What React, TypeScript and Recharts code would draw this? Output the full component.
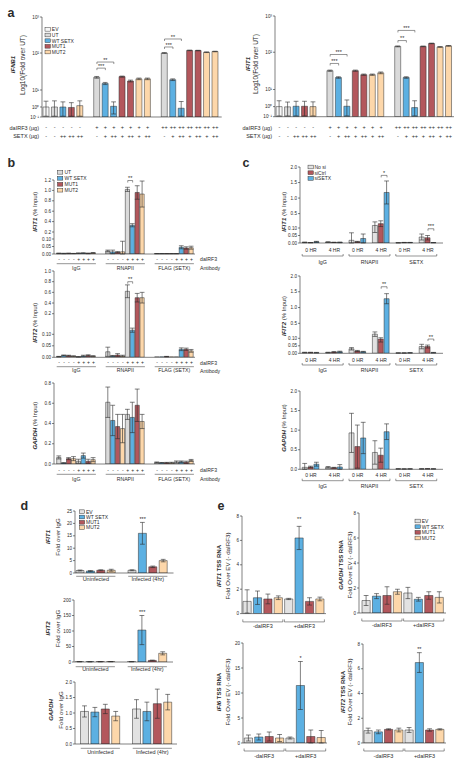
import React from 'react';
import { BarChart, Bar, XAxis, YAxis, Cell, ErrorBar, ReferenceLine, ReferenceDot } from 'recharts';

const FONT = '"Liberation Sans", Arial, sans-serif';
const INK = '#2b2b2b';
const COL: Record<string, string> = { EV: '#f7f7f7', UT: '#dadada', G: '#e2e2e2', WT: '#5cb0e2', M1: '#b3575c', M2: '#fdd7aa' };

// ---------------- panel a ----------------
const aDalRF3 = ['-', '-', '-', '-', '-', '', '+', '+', '+', '+', '+', '+', '+', '', '++', '++', '++', '++', '++', '++', '++'];
const aSETX = ['-', '-', '++', '++', '++', '', '-', '+', '++', '+', '++', '+', '++', '', '-', '+', '++', '+', '++', '+', '++'];
const aColors = ['EV', 'UT', 'WT', 'M1', 'M2', '', 'UT', 'WT', 'WT', 'M1', 'M1', 'M2', 'M2', '', 'UT', 'WT', 'WT', 'M1', 'M1', 'M2', 'M2'];
const aIfnb1 = [1.0, 1.0, 1.0, 0.9, 1.2, null, 22, 15, 1.1, 23, 17.5, 20, 20, null, 100, 19, 0.75, 118, 117, 105, 110];
const aIfnb1Err = [1.2, 1.3, 1.0, 0.9, 1.1, null, 1.2, 1.0, 0.9, 0.8, 1.0, 1.0, 1.0, null, 2.5, 1.0, 1.35, 2, 2, 2, 2];
const aIfnb1Brackets: [number, number, number, string][] = [[6, 7, 39, '***'], [6, 8, 57, '**'], [14, 15, 147, '***'], [14, 16, 245, '**']];
const aIfit1 = [1.0, 0.95, 1.05, 1.05, 1.0, null, 32, 21, 1.05, 32, 25, 25, 28, null, 145, 21, 0.8, 145, 175, 140, 150];
const aIfit1Err = [1.2, 0.9, 1.0, 1.0, 0.9, null, 1.2, 1.0, 1.4, 1.2, 1.0, 1.0, 1.5, null, 4, 1.0, 1.4, 3, 3, 3, 3];
const aIfit1Brackets: [number, number, number, string][] = [[6, 7, 50, '***'], [6, 8, 87, '***'], [14, 15, 210, '**'], [14, 16, 400, '***']];
const aTicks = [0.1, 1, 10, 100, 1000];
const aTickLabels = ['10⁻¹', '10⁰', '10¹', '10²', '10³'];
const aLegend = [['EV', 'EV'], ['UT', 'UT'], ['WT SETX', 'WT'], ['MUT1', 'M1'], ['MUT2', 'M2']];

// ---------------- panel b ----------------
const bDal = ['-', '-', '-', '-', '+', '+', '+', '+', '', '', '-', '-', '-', '-', '+', '+', '+', '+', '', '', '-', '-', '-', '-', '+', '+', '+', '+'];
const bColors = ['UT', 'WT', 'M1', 'M2', 'UT', 'WT', 'M1', 'M2', '', '', 'UT', 'WT', 'M1', 'M2', 'UT', 'WT', 'M1', 'M2', '', '', 'UT', 'WT', 'M1', 'M2', 'UT', 'WT', 'M1', 'M2'];
const bGroupNames = ['IgG', 'RNAPII', 'FLAG (SETX)'];
const bIfit1 = [0.004, 0.003, 0.004, 0.003, 0.005, 0.006, 0.004, 0.007, null, null,
  0.02, 0.014, 0.012, 0.015, 1.02, 0.33, 0.96, 0.93, null, null,
  0.002, 0.002, 0.002, 0.002, 0.002, 0.045, 0.04, 0.042];
const bIfit1Err = [0.002, 0.002, 0.002, 0.001, 0.002, 0.002, 0.002, 0.003, null, null,
  0.006, 0.012, 0.004, 0.07, 0.04, 0.03, 0.13, 0.25, null, null,
  0.001, 0.001, 0.001, 0.001, 0.001, 0.01, 0.008, 0.01];
const bIfit2 = [0.003, 0.008, 0.007, 0.005, 0.002, 0.006, 0.008, 0.005, null, null,
  0.024, 0.006, 0.01, 0.006, 0.62, 0.12, 0.5, 0.5, null, null,
  0.002, 0.002, 0.003, 0.002, 0.002, 0.035, 0.035, 0.028];
const bIfit2Err = [0.001, 0.002, 0.002, 0.001, 0.001, 0.003, 0.003, 0.002, null, null,
  0.02, 0.002, 0.006, 0.003, 0.12, 0.01, 0.08, 0.1, null, null,
  0, 0, 0.001, 0, 0, 0.006, 0.005, 0.006];
const bGapdh = [0.065, 0.01, 0.053, 0.053, 0.027, 0.083, 0.027, 0.043, null, null,
  0.61, 0.43, 0.37, 0.35, 0.49, 0.46, 0.58, 0.42, null, null,
  0.015, 0.012, 0.012, 0.012, 0.02, 0.022, 0.018, 0.035];
const bGapdhErr = [0.015, 0.003, 0.01, 0.02, 0.02, 0.025, 0.02, 0.02, null, null,
  0.15, 0.15, 0.12, 0.14, 0.05, 0.15, 0.16, 0.07, null, null,
  0.005, 0.003, 0.004, 0.005, 0.01, 0.008, 0.01, 0.01];
const bLegend = [['UT', 'UT'], ['WT SETX', 'WT'], ['MUT1', 'M1'], ['MUT2', 'M2']];

// ---------------- panel c ----------------
const cColors = ['G', 'M1', 'WT', '', 'G', 'M1', 'WT', '', 'G', 'M1', 'WT', '', 'G', 'M1', 'WT', '', 'G', 'M1', 'WT', '', 'G', 'M1', 'WT'];
const cTimes = ['0 HR', '4 HR', '0 HR', '4 HR', '0 HR', '4 HR'];
const cGroupNames = ['IgG', 'RNAPII', 'SETX'];
const cIfit1 = [0.004, 0.002, 0.008, null, 0.006, 0.004, 0.004, null, 0.018, 0.008, 0.03, null, 0.17, 0.22, 1.18, null, 0.001, 0.003, 0.003, null, 0.04, 0.035, 0.002];
const cIfit1Err = [0.002, 0.001, 0.003, null, 0.002, 0.001, 0.002, null, 0.05, 0.003, 0.03, null, 0.1, 0.08, 0.37, null, 0.001, 0.001, 0.001, null, 0.02, 0.015, 0.001];
const cIfit2 = [0.005, 0.005, 0.004, null, 0.005, 0.008, 0.01, null, 0.03, 0.015, 0.01, null, 0.21, 0.095, 1.28, null, 0.002, 0.002, 0.003, null, 0.045, 0.045, 0.004];
const cIfit2Err = [0.002, 0.002, 0.002, null, 0.002, 0.004, 0.004, null, 0.008, 0.004, 0.003, null, 0.06, 0.02, 0.16, null, 0.001, 0.001, 0.001, null, 0.015, 0.01, 0.002];
const cGapdh = [0.05, 0.06, 0.13, null, 0.05, 0.04, 0.06, null, 0.93, 0.58, 0.8, null, 0.43, 0.36, 0.96, null, 0.01, 0.008, 0.01, null, 0.01, 0.012, 0.01];
const cGapdhErr = [0.1, 0.02, 0.05, null, 0.02, 0.01, 0.06, null, 0.5, 0.55, 0.4, null, 0.3, 0.18, 0.2, null, 0.004, 0.003, 0.004, null, 0.004, 0.005, 0.004];
const cLegend = [['No si', 'G'], ['siCtrl', 'M1'], ['siSETX', 'WT']];

// ---------------- panel d ----------------
const dColors = ['G', 'WT', 'M1', 'M2', '', 'G', 'WT', 'M1', 'M2'];
const dGroupNames = ['Uninfected', 'Infected (4hr)'];
const dIfit1 = [1.0, 0.8, 1.1, 1.1, null, 1.1, 16, 2.5, 5.0];
const dIfit1Err = [0.2, 0.2, 0.2, 0.4, null, 0.2, 4.4, 0.3, 0.5];
const dIfit2 = [1, 0.8, 1, 1.2, null, 1, 103, 5, 28];
const dIfit2Err = [0.3, 0.2, 0.3, 0.3, null, 0.3, 47, 1, 5];
const dGapdh = [1.05, 1.03, 1.13, 0.9, null, 1.13, 1.05, 1.3, 1.35];
const dGapdhErr = [0.18, 0.15, 0.15, 0.15, null, 0.3, 0.3, 0.47, 0.25];
const dLegend = [['EV', 'G'], ['WT SETX', 'WT'], ['MUT1', 'M1'], ['MUT2', 'M2']];

// ---------------- panel e ----------------
const eColors = ['G', 'WT', 'M1', 'M2', 'G', 'WT', 'M1', 'M2'];
const eGroupNames = ['-daIRF3', '+daIRF3'];
const eIfit1 = [1.0, 1.3, 1.2, 1.3, 1.2, 6.2, 1.0, 1.2];
const eIfit1Err = [0.95, 0.55, 0.4, 0.15, 0.05, 0.95, 0.3, 0.15];
const eGapdh = [1.0, 1.35, 1.4, 1.7, 1.6, 1.1, 1.4, 1.25];
const eGapdhErr = [0.4, 0.2, 0.7, 0.2, 0.45, 0.15, 0.3, 0.45];
const eIfi6 = [1.0, 1.2, 1.3, 1.0, 1.0, 11.5, 1.3, 1.1];
const eIfi6Err = [0.6, 0.6, 0.9, 0.7, 0.2, 4.8, 1.3, 1.4];
const eIfit2 = [1.0, 0.9, 1.1, 1.05, 1.05, 6.5, 1.05, 1.1];
const eIfit2Err = [0.2, 0.15, 0.05, 0.15, 0.2, 0.8, 0.1, 0.05];

// ---------------- axis scales ----------------
function piecewise(bp: number[][]) {
  return (v: number) => {
    for (let i = 1; i < bp.length; i++) {
      if (v <= bp[i][0] || i === bp.length - 1) {
        const [x0, y0] = bp[i - 1];
        const [x1, y1] = bp[i];
        return y0 + ((v - x0) * (y1 - y0)) / (x1 - x0);
      }
    }
    return v;
  };
}
const logAxis = piecewise([[-1, 0], [0, 10], [1, 27], [2, 64], [3, 100]]);
const tA = (v: number) => logAxis(Math.log10(Math.max(v, 0.1)));
const tB1 = piecewise([[0, 0], [0.1, 15], [0.2, 22], [1.2, 74]]);
const tB2 = piecewise([[0, 0], [0.1, 23], [0.2, 43.6], [1.0, 86.3]]);
const tC1 = piecewise([[0, 0], [0.1, 15], [0.5, 29.4], [2.0, 76]]);
const tC2 = piecewise([[0, 0], [0.1, 15], [0.5, 30], [2.0, 77.3]]);
const lin = (v: number) => v;

type Group = { start: number; n: number; label: string; dy: number; fs?: number; line?: number; ends?: number; inset?: number };
type Spec = {
  x: number; y: number; w: number; h: number; padL: number; padR: number;
  vals: (number | null)[]; errs: (number | null)[]; colors: string[];
  tf: (v: number) => number; lowClamp?: number; dTop: number;
  ticks: number[]; tickLabels: string[]; barSize: number;
  rows?: { dy: number; items: string[]; fs?: number }[];
  groups?: Group[];
  brackets?: [number, number, number, string][];
  stars?: [number, number, string][];
};

function Panel({ s }: { s: Spec }) {
  const YW = 20, MT = 12, MR = 4, XH = 26;
  const n = s.vals.length;
  const pitch = (s.w - s.padL - s.padR) / n;
  const data = s.vals.map((v, i) => {
    const row: any = { k: 's' + i, c: s.colors[i], v: null };
    if (v != null) {
      const d = s.tf(v);
      row.v = d;
      const e = s.errs[i];
      if (e != null && e > 0) {
        const lo = Math.max(v - e, s.lowClamp ?? 0);
        row.e = [d - s.tf(lo), s.tf(v + e) - d];
      }
    }
    return row;
  });
  const upp = s.dTop / s.h;
  const tickVals = s.ticks.map(s.tf);
  const tick = (p: any) => {
    const i = p.index ?? p.payload?.index;
    const x = p.x, y = p.y;
    const out: any[] = [];
    (s.rows || []).forEach((r, j) => {
      const t = r.items[i];
      if (t) out.push(<text key={'r' + j} x={x} y={y + r.dy} textAnchor="middle" fontSize={r.fs ?? 5} fill={INK} fontFamily={FONT}>{t}</text>);
    });
    (s.groups || []).forEach((g, j) => {
      if (g.start !== i) return;
      const cx = x + ((g.n - 1) / 2) * pitch;
      const half = (g.n * pitch) / 2 - (g.inset ?? 0);
      if (g.line != null) {
        out.push(<line key={'l' + j} x1={cx - half} x2={cx + half} y1={y + g.line} y2={y + g.line} stroke={INK} strokeWidth={0.5} />);
        if (g.ends) {
          out.push(<line key={'la' + j} x1={cx - half} x2={cx - half} y1={y + g.line} y2={y + g.line - g.ends} stroke={INK} strokeWidth={0.5} />);
          out.push(<line key={'lb' + j} x1={cx + half} x2={cx + half} y1={y + g.line} y2={y + g.line - g.ends} stroke={INK} strokeWidth={0.5} />);
        }
      }
      if (g.label) out.push(<text key={'g' + j} x={cx} y={y + g.dy} textAnchor="middle" fontSize={g.fs ?? 5.2} fill={INK} fontFamily={FONT}>{g.label}</text>);
    });
    return <g>{out}</g>;
  };
  return (
    <div style={{ position: 'absolute', left: s.x - YW, top: s.y - MT }}>
      <BarChart width={YW + s.w + MR} height={MT + s.h + XH} data={data} margin={{ top: MT, right: MR, bottom: 0, left: 0 }}>
        <XAxis dataKey="k" type="category" interval={0} tickLine={false} tickSize={0} tickMargin={0} height={XH}
          padding={{ left: s.padL, right: s.padR }} axisLine={{ stroke: INK, strokeWidth: 0.6 }} tick={tick} />
        <YAxis type="number" domain={[0, s.dTop]} allowDataOverflow ticks={tickVals} interval={0} width={YW}
          tickSize={2} tickMargin={1}
          tickFormatter={(v: number, i: number) => {
            if (i != null && s.tickLabels[i] != null) return s.tickLabels[i];
            let best = 0;
            tickVals.forEach((t, j) => { if (Math.abs(t - v) < Math.abs(tickVals[best] - v)) best = j; });
            return s.tickLabels[best];
          }}
          axisLine={{ stroke: INK, strokeWidth: 0.6 }} tickLine={{ stroke: INK, strokeWidth: 0.6 }}
          tick={{ fontSize: 4.6, fill: INK, fontFamily: FONT }} />
        <Bar dataKey="v" barSize={s.barSize} isAnimationActive={false} stroke={INK} strokeWidth={0.5}>
          {data.map((d, i) => <Cell key={i} fill={COL[d.c] || 'none'} />)}
          <ErrorBar dataKey="e" width={2.4} stroke={INK} strokeWidth={0.6} direction="y" />
        </Bar>
        {(s.brackets || []).map(([a, b, hv, lab], j) => {
          const yv = s.tf(hv);
          const drop = 2 * upp;
          return (
            <React.Fragment key={'br' + j}>
              <ReferenceLine segment={[{ x: 's' + a, y: yv }, { x: 's' + b, y: yv }]} stroke={INK} strokeWidth={0.5} ifOverflow="visible"
                label={{ value: lab, position: 'top', fontSize: 5.5, fill: INK, offset: 0.3 }} />
              <ReferenceLine segment={[{ x: 's' + a, y: yv }, { x: 's' + a, y: yv - drop }]} stroke={INK} strokeWidth={0.5} ifOverflow="visible" />
              <ReferenceLine segment={[{ x: 's' + b, y: yv }, { x: 's' + b, y: yv - drop }]} stroke={INK} strokeWidth={0.5} ifOverflow="visible" />
            </React.Fragment>
          );
        })}
        {(s.stars || []).map(([i, hv, lab], j) => (
          <ReferenceDot key={'st' + j} x={'s' + i} y={s.tf(hv)} r={0} fill="none" stroke="none" ifOverflow="visible"
            label={{ value: lab, position: 'center', fontSize: 5.5, fill: INK }} />
        ))}
      </BarChart>
    </div>
  );
}

// ---------------- panel specs ----------------
const aSpecBase = { padL: 0, colors: aColors, tf: tA, lowClamp: 0.12, dTop: 100, ticks: aTicks, tickLabels: aTickLabels, barSize: 6 };
const specA1: Spec = { ...aSpecBase, x: 41.8, y: 17.3, w: 179.7, h: 100, padR: 2.25, vals: aIfnb1, errs: aIfnb1Err,
  rows: [{ dy: 12.4, items: aDalRF3, fs: 5.5 }, { dy: 20.7, items: aSETX, fs: 5.5 }], brackets: aIfnb1Brackets };
const specA2: Spec = { ...aSpecBase, x: 275, y: 16, w: 179, h: 100.7, padL: 0.1, padR: 1, vals: aIfit1, errs: aIfit1Err,
  rows: [{ dy: 12.7, items: aDalRF3, fs: 5.5 }, { dy: 21, items: aSETX, fs: 5.5 }], brackets: aIfit1Brackets };

const bGroups = (line: number, dy: number): Group[] => bGroupNames.map((g, k) => ({ start: k * 10, n: 8, label: g, line, dy, inset: 0 }));
const bBase = { x: 54, w: 141, padL: 2.7, padR: 1.1, colors: bColors, barSize: 4.2 };
const specB1: Spec = { ...bBase, y: 180, h: 74, vals: bIfit1, errs: bIfit1Err, tf: tB1, dTop: 74,
  ticks: [0, 0.05, 0.1, 0.2, 0.4, 0.6, 0.8, 1.0, 1.2], tickLabels: ['0.00', '0.05', '0.10', '0.2', '0.4', '0.6', '0.8', '1.0', '1.2'],
  rows: [{ dy: 7.0, items: bDal }], groups: bGroups(9.7, 15.5), brackets: [[14, 15, 1.19, '**']] };
const specB2: Spec = { ...bBase, y: 271, h: 86.3, vals: bIfit2, errs: bIfit2Err, tf: tB2, dTop: 86.3,
  ticks: [0, 0.05, 0.1, 0.2, 0.4, 0.6, 0.8, 1.0], tickLabels: ['0.00', '0.05', '0.10', '0.2', '0.4', '0.6', '0.8', '1.0'],
  rows: [{ dy: 7.1, items: bDal }], groups: bGroups(9.4, 15.2), brackets: [[14, 15, 0.8, '**']] };
const specB3: Spec = { ...bBase, y: 383, h: 81, vals: bGapdh, errs: bGapdhErr, tf: lin, dTop: 0.8,
  ticks: [0, 0.2, 0.4, 0.6, 0.8], tickLabels: ['0.0', '0.2', '0.4', '0.6', '0.8'],
  rows: [{ dy: 7.8, items: bDal }], groups: bGroups(10.3, 16.8) };

const cGroups = (subDy: number, line: number, dy: number): Group[] => [
  ...cTimes.map((t, k) => ({ start: k * 4, n: 3, label: t, dy: subDy, fs: 5 })),
  ...cGroupNames.map((g, k) => ({ start: k * 8, n: 7, label: g, line, ends: 2, dy, fs: 5.3 })),
];
const cBase = { x: 300, w: 143, padL: 2.2, padR: 6.25, colors: cColors, barSize: 5 };
const specC1: Spec = { ...cBase, y: 166.7, h: 76, vals: cIfit1, errs: cIfit1Err, tf: tC1, dTop: 76,
  ticks: [0, 0.05, 0.1, 0.5, 1, 1.5, 2], tickLabels: ['0.00', '0.05', '0.10', '0.5', '1.0', '1.5', '2.0'],
  groups: cGroups(9.1, 13, 21.4), brackets: [[13, 14, 1.73, '*'], [21, 22, 0.095, '***']] };
const specC2: Spec = { ...cBase, y: 276, h: 77.3, vals: cIfit2, errs: cIfit2Err, tf: tC2, dTop: 77.3,
  ticks: [0, 0.05, 0.1, 0.5, 1, 1.5, 2], tickLabels: ['0.00', '0.05', '0.10', '0.5', '1.0', '1.5', '2.0'],
  groups: cGroups(8.5, 11.7, 19.2), brackets: [[13, 14, 1.66, '**'], [21, 22, 0.095, '**']] };
const specC3: Spec = { ...cBase, y: 391, h: 78.3, vals: cGapdh, errs: cGapdhErr, tf: lin, dTop: 2,
  ticks: [0, 0.5, 1, 1.5, 2], tickLabels: ['0.0', '0.5', '1.0', '1.5', '2.0'],
  groups: cGroups(7.5, 11.4, 18.5) };

const dGroups = (line: number, dy: number): Group[] => dGroupNames.map((g, k) => ({ start: k * 5, n: 4, label: g, line, dy, inset: 1.2, fs: 5.5 }));
const dBase = { colors: dColors, barSize: 8, tf: lin };
const specD1: Spec = { ...dBase, x: 74.5, y: 511, w: 98.5, h: 62, padL: 0, padR: 4.9, vals: dIfit1, errs: dIfit1Err, dTop: 25,
  ticks: [0, 5, 10, 15, 20, 25], tickLabels: ['0', '5', '10', '15', '20', '25'], groups: dGroups(3.3, 8.1), stars: [[6, 21.8, '***']] };
const specD2: Spec = { ...dBase, x: 74, y: 600, w: 99, h: 62, padL: 0.5, padR: 4.9, vals: dIfit2, errs: dIfit2Err, dTop: 200,
  ticks: [0, 50, 100, 150, 200], tickLabels: ['0', '50', '100', '150', '200'], groups: dGroups(4.7, 9.1), stars: [[6, 162, '***']] };
const specD3: Spec = { ...dBase, x: 75, y: 682, w: 102, h: 62, padL: 4.5, padR: 3.9, vals: dGapdh, errs: dGapdhErr, dTop: 2,
  ticks: [0, 0.5, 1, 1.5, 2], tickLabels: ['0.0', '0.5', '1.0', '1.5', '2.0'], groups: dGroups(4.3, 9.5) };

const eGroups = (line: number, dy: number): Group[] => eGroupNames.map((g, k) => ({ start: k * 4, n: 4, label: g, line, ends: 2.5, dy, inset: 0.8, fs: 5.5 }));
const eBase = { colors: eColors, barSize: 8.2, tf: lin };
const specE1: Spec = { ...eBase, x: 242, y: 516.4, w: 84, h: 97.6, padL: 0, padR: 0.8, vals: eIfit1, errs: eIfit1Err, dTop: 8,
  ticks: [0, 2, 4, 6, 8], tickLabels: ['0', '2', '4', '6', '8'], groups: eGroups(8.3, 14.5), stars: [[5, 7.75, '**']] };
const specE2: Spec = { ...eBase, x: 359, y: 513, w: 87, h: 100, padL: 2, padR: 1.4, vals: eGapdh, errs: eGapdhErr, dTop: 8,
  ticks: [0, 2, 4, 6, 8], tickLabels: ['0', '2', '4', '6', '8'], groups: eGroups(8, 13.8) };
const specE3: Spec = { ...eBase, x: 243, y: 643, w: 84, h: 100, padL: 0.3, padR: 0.5, vals: eIfi6, errs: eIfi6Err, dTop: 20,
  ticks: [0, 5, 10, 15, 20], tickLabels: ['0', '5', '10', '15', '20'], groups: eGroups(8, 14.8), stars: [[5, 17, '*']] };
const specE4: Spec = { ...eBase, x: 363, y: 644, w: 83, h: 99, padL: 0, padR: 1, vals: eIfit2, errs: eIfit2Err, dTop: 8,
  ticks: [0, 2, 4, 6, 8], tickLabels: ['0', '2', '4', '6', '8'], groups: eGroups(8, 14.8), stars: [[5, 7.6, '**']] };

// ---------------- overlay text helpers ----------------
const VTitle = ({ x, y, fs = 6, children }: any) => (
  <text x={x} y={y} fontSize={fs} fontFamily={FONT} fill={INK} textAnchor="middle" dominantBaseline="central" transform={`rotate(-90 ${x} ${y})`}>{children}</text>
);
const Gene = ({ children }: any) => <tspan fontStyle="italic" fontWeight="bold">{children}</tspan>;
const T = ({ x, y, fs = 5, anchor = 'start', children, bold }: any) => (
  <text x={x} y={y} fontSize={fs} fontFamily={FONT} fill={INK} textAnchor={anchor} fontWeight={bold ? 'bold' : 'normal'}>{children}</text>
);
const Legend = ({ x, ys, items, tx }: any) => (
  <g>
    {items.map(([lab, c]: any, i: number) => (
      <g key={i}>
        <rect x={x} y={ys[i] - 1.85} width={5.3} height={3.7} fill={COL[c]} stroke={INK} strokeWidth={0.45} />
        <text x={tx} y={ys[i] + 1.8} fontSize={5} fontFamily={FONT} fill={INK}>{lab}</text>
      </g>
    ))}
  </g>
);

export default function App() {
  const specs = [specA1, specA2, specB1, specB2, specB3, specC1, specC2, specC3, specD1, specD2, specD3, specE1, specE2, specE3, specE4];
  return (
    <div style={{ position: 'absolute', left: 0, top: 0, width: 462, height: 767, background: '#fff', overflow: 'hidden', fontFamily: FONT }}>
      {specs.map((s, i) => <Panel key={i} s={s} />)}
      <svg width={462} height={767} style={{ position: 'absolute', left: 0, top: 0, pointerEvents: 'none' }}>
        {/* panel letters */}
        <T x={7.5} y={17} fs={12.5} bold>a</T>
        <T x={7.5} y={167} fs={12.5} bold>b</T>
        <T x={242.5} y={167} fs={12.5} bold>c</T>
        <T x={20.5} y={510} fs={12.5} bold>d</T>
        <T x={217.5} y={509.5} fs={12.5} bold>e</T>

        {/* a */}
        <VTitle x={13.3} y={64.5} fs={6}><Gene>IFNB1</Gene></VTitle>
        <VTitle x={22.5} y={65} fs={6.5}>Log10(Fold over UT)</VTitle>
        <VTitle x={247.5} y={64} fs={6}><Gene>IFIT1</Gene></VTitle>
        <VTitle x={255.5} y={64} fs={6.5}>Log10(Fold over UT)</VTitle>
        <T x={39} y={129.7} fs={5.5} anchor="end">daIRF3 (µg)</T>
        <T x={39} y={138} fs={5.5} anchor="end">SETX (µg)</T>
        <T x={272} y={129.7} fs={5.5} anchor="end">daIRF3 (µg)</T>
        <T x={272} y={138} fs={5.5} anchor="end">SETX (µg)</T>
        <Legend x={45} tx={51.8} ys={[29.3, 35, 40.7, 46.3, 52]} items={aLegend} />

        {/* b */}
        <VTitle x={35} y={211.7}><Gene>IFIT1</Gene> (% Input)</VTitle>
        <VTitle x={35} y={322.7}><Gene>IFIT2</Gene> (% Input)</VTitle>
        <VTitle x={35} y={425.7}><Gene>GAPDH</Gene> (% Input)</VTitle>
        <Legend x={57.5} tx={64.5} ys={[172.3, 178.3, 184.3, 190.2]} items={bLegend} />
        <T x={200} y={261.1} fs={5.2}>daIRF3</T>
        <T x={200} y={269.5} fs={5.2}>Antibody</T>
        <T x={200} y={364.5} fs={5.2}>daIRF3</T>
        <T x={200} y={372.5} fs={5.2}>Antibody</T>
        <T x={200} y={471.8} fs={5.2}>daIRF3</T>
        <T x={200} y={480.8} fs={5.2}>Antibody</T>

        {/* c */}
        <VTitle x={284.3} y={211.7}><Gene>IFIT1</Gene> (% Input)</VTitle>
        <VTitle x={284.3} y={316}><Gene>IFIT2</Gene> (% Input)</VTitle>
        <VTitle x={284.3} y={428}><Gene>GAPDH</Gene> (% Input)</VTitle>
        <Legend x={308} tx={314.5} ys={[167, 172.7, 178.4]} items={cLegend} />

        {/* d */}
        <VTitle x={48} y={537}><Gene>IFIT1</Gene></VTitle>
        <VTitle x={57} y={537} fs={6.2}>Fold over IgG</VTitle>
        <VTitle x={48} y={628.5}><Gene>IFIT2</Gene></VTitle>
        <VTitle x={57} y={628.5} fs={6.2}>Fold over IgG</VTitle>
        <VTitle x={50.7} y={710}><Gene>GAPDH</Gene></VTitle>
        <VTitle x={60} y={710} fs={6.2}>Fold over IgG</VTitle>
        <Legend x={79.3} tx={86} ys={[511.7, 517, 522.3, 527.6]} items={dLegend} />

        {/* e */}
        <VTitle x={219} y={566}><Gene>IFIT1</Gene><tspan fontWeight="bold"> TSS RNA</tspan></VTitle>
        <VTitle x={227} y={566} fs={6.2}>Fold Over EV (- daIRF3)</VTitle>
        <VTitle x={341} y={565}><Gene>GAPDH</Gene><tspan fontWeight="bold"> TSS RNA</tspan></VTitle>
        <VTitle x={349.3} y={565} fs={6.2}>Fold Over EV (- daIRF3)</VTitle>
        <VTitle x={219} y={692}><Gene>IFI6</Gene><tspan fontWeight="bold"> TSS RNA</tspan></VTitle>
        <VTitle x={227} y={692} fs={6.2}>Fold Over EV (- daIRF3)</VTitle>
        <VTitle x={342.7} y={692}><Gene>IFIT2</Gene><tspan fontWeight="bold"> TSS RNA</tspan></VTitle>
        <VTitle x={349.3} y={692} fs={6.2}>Fold Over EV (- daIRF3)</VTitle>
        <Legend x={415} tx={421.7} ys={[521, 526.7, 532.3, 538]} items={dLegend} />
      </svg>
    </div>
  );
}
